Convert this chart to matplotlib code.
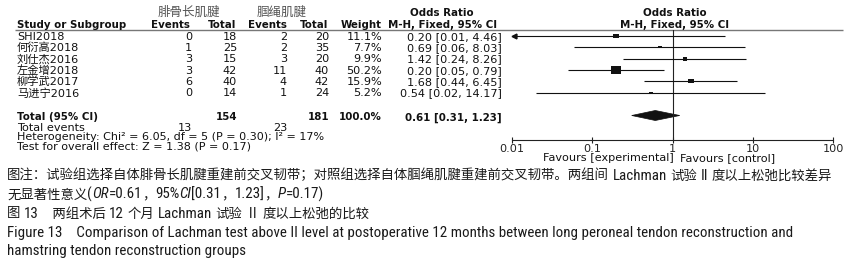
import os
import matplotlib
matplotlib.use("Agg")
import matplotlib.pyplot as plt
from matplotlib import font_manager
from matplotlib.font_manager import FontProperties
from matplotlib.path import Path
from matplotlib.markers import MarkerStyle
from matplotlib.patches import Polygon

# ---------------- data ----------------
studies = ['SHI2018', '何衍高2018', '刘仕杰2016', '左金增2018', '柳学武2017', '马进宁2016']
exp_events = [0, 1, 3, 3, 6, 0]
exp_total = [18, 25, 15, 42, 40, 14]
ctl_events = [2, 2, 3, 11, 4, 1]
ctl_total = [20, 35, 20, 40, 42, 24]
weights = [11.1, 7.7, 9.9, 50.2, 15.9, 5.2]
or_est = [0.20, 0.69, 1.42, 0.20, 1.68, 0.54]
ci_low = [0.01, 0.06, 0.24, 0.05, 0.44, 0.02]
ci_high = [4.46, 8.03, 8.26, 0.79, 6.45, 14.17]
total_exp = 154
total_ctl = 181
total_weight = 100.0
total_or = 0.61
total_low = 0.31
total_high = 1.23
total_exp_events = 13
total_ctl_events = 23
heterogeneity = "Heterogeneity: Chi² = 6.05, df = 5 (P = 0.30); I² = 17%"
overall = "Test for overall effect: Z = 1.38 (P = 0.17)"
xticks = [0.01, 0.1, 1, 10, 100]
xtick_labels = ['0.01', '0.1', '1', '10', '100']
group_exp = '腓骨长肌腱'
group_ctl = '腘绳肌腱'
caption_lines = [
    [('图注：试验组选择自体腓骨长肌腱重建前交叉韧带；对照组选择自体腘绳肌腱重建前交叉韧带。两组间 Lachman 试验 II 度以上松弛比较差异', False)],
    [('无显著性意义(', False), ('OR', True), ('=0.61，95%', False), ('CI', True),
     ('[0.31，1.23]，', False), ('P', True), ('=0.17)', False)],
    [('图 13　两组术后 12 个月 Lachman 试验 Ⅱ 度以上松弛的比较', False)],
    [('Figure 13    Comparison of Lachman test above II level at postoperative 12 months between long peroneal tendon reconstruction and', False)],
    [('hamstring tendon reconstruction groups', False)],
]

# ---------------- fonts ----------------
CJK = 'Noto Sans CJK SC'
TAB = ['DejaVu Sans', CJK]
plt.rcParams['font.family'] = TAB


def _w(f):
    if isinstance(f.weight, int):
        return f.weight
    return font_manager.weight_dict.get(f.weight, 400)


def pick_narrow():
    prefs = ['Liberation Sans Narrow', 'Arial Narrow', 'Roboto', 'Open Sans', 'DejaVu Sans', 'Noto Sans', 'Lato', 'Inter']
    cands = []
    for f in font_manager.fontManager.ttflist:
        fn = os.path.basename(f.fname).lower()
        if any(k in fn for k in ('mono', 'cjk', 'serif', 'math', 'extracond', 'extra-cond', 'ultracond')):
            continue
        cond = f.stretch in ('condensed', 'semi-condensed') or 'narrow' in fn or 'condensed' in fn
        if cond and f.style == 'normal' and _w(f) == 400:
            cands.append(f)
    for p in prefs:
        for f in cands:
            if f.name.startswith(p):
                return f
    return cands[0] if cands else None


nf = pick_narrow()
if nf is not None:
    lat_file = nf.fname
    ital = [f for f in font_manager.fontManager.ttflist
            if f.name == nf.name and f.stretch == nf.stretch and f.style in ('italic', 'oblique') and _w(f) == 400]
    lat_ital_file = ital[0].fname if ital else None
else:
    lat_file = None
    lat_ital_file = None


def lat_fp(size, italic=False):
    if italic and lat_ital_file:
        return FontProperties(fname=lat_ital_file, size=size)
    if lat_file and not italic:
        return FontProperties(fname=lat_file, size=size)
    return FontProperties(family='Liberation Sans', style='italic' if italic else 'normal', size=size)


W, H = 844, 268
fig = plt.figure(figsize=(W / 100, H / 100), dpi=100)
fig.patch.set_facecolor('white')
ax0 = fig.add_axes([0, 0, 1, 1])
ax0.set_xlim(0, W)
ax0.set_ylim(H, 0)
ax0.axis('off')
renderer = fig.canvas.get_renderer()

fs = 8.1
fsb = 7.4
txt = dict(fontsize=fs, va='center', family=TAB, color='#111')
txb = dict(fontsize=fsb, va='center', family=TAB, color='#111', fontweight='bold')

# ---------------- table ----------------
row_y0, row_dy = 36.0, 11.3
rows_y = [row_y0 + i * row_dy for i in range(len(studies))]

ax0.text(189, 12, group_exp, ha='center', va='center', fontsize=9, family=TAB, color='#555')
ax0.text(282, 12, group_ctl, ha='center', va='center', fontsize=9, family=TAB, color='#555')
ax0.text(442, 13.5, 'Odds Ratio', ha='center', **txb)
ax0.text(675, 13.5, 'Odds Ratio', ha='center', **txb)

hy = 25
ax0.text(17, hy, 'Study or Subgroup', ha='left', **txb)
ax0.text(190, hy, 'Events', ha='right', **txb)
ax0.text(236, hy, 'Total', ha='right', **txb)
ax0.text(287, hy, 'Events', ha='right', **txb)
ax0.text(328, hy, 'Total', ha='right', **txb)
ax0.text(382, hy, 'Weight', ha='right', **txb)
ax0.text(443, hy, 'M-H, Fixed, 95% CI', ha='center', **txb)
ax0.text(675, hy, 'M-H, Fixed, 95% CI', ha='center', **txb)
ax0.plot([15, 843], [29.5, 29.5], color='#777', lw=1.0, solid_capstyle='butt')

for i, y in enumerate(rows_y):
    ty = y + 0.8
    ax0.text(17, ty, studies[i], ha='left', **txt)
    ax0.text(192, ty, str(exp_events[i]), ha='right', **txt)
    ax0.text(237, ty, str(exp_total[i]), ha='right', **txt)
    ax0.text(287, ty, str(ctl_events[i]), ha='right', **txt)
    ax0.text(329, ty, str(ctl_total[i]), ha='right', **txt)
    ax0.text(382, ty, f'{weights[i]:.1f}%', ha='right', **txt)
    ax0.text(502, ty, f'{or_est[i]:.2f} [{ci_low[i]:.2f}, {ci_high[i]:.2f}]', ha='right', **txt)

ty_total = 117.5
ax0.text(17, ty_total, 'Total (95% CI)', ha='left', **txb)
ax0.text(237, ty_total, str(total_exp), ha='right', **txb)
ax0.text(329, ty_total, str(total_ctl), ha='right', **txb)
ax0.text(382, ty_total, f'{total_weight:.1f}%', ha='right', **txb)
ax0.text(502, ty_total, f'{total_or:.2f} [{total_low:.2f}, {total_high:.2f}]', ha='right', **txb)
ax0.text(17, 128.3, 'Total events', ha='left', **txt)
ax0.text(192, 128.3, str(total_exp_events), ha='right', **txt)
ax0.text(287, 128.3, str(total_ctl_events), ha='right', **txt)
small = dict(txt, fontsize=8.0)
ax0.text(17, 137.5, heterogeneity, ha='left', **small)
ax0.text(17, 146.5, overall, ha='left', **small)

# ---------------- forest plot ----------------
ax_top, ax_bot = 29.5, 140
ax = fig.add_axes([512 / W, 1 - ax_bot / H, (833 - 512) / W, (ax_bot - ax_top) / H])
ax.set_xscale('log')
ax.set_xlim(xticks[0], xticks[-1])
ax.set_ylim(ax_bot, ax_top)
ax.patch.set_alpha(0)
for s in ['top', 'left', 'right']:
    ax.spines[s].set_visible(False)
ax.spines['bottom'].set_linewidth(0.8)
ax.spines['bottom'].set_color('#222')
ax.set_yticks([])
ax.set_xticks(xticks)
ax.set_xticklabels(xtick_labels)
ax.minorticks_off()
ax.tick_params(axis='x', direction='inout', length=5, width=0.8, pad=0.5,
               labelsize=fs, colors='#222')
for lab in ax.get_xticklabels():
    lab.set_family(TAB)
ax.axvline(1, color='#222', lw=0.8)

sq = MarkerStyle(Path([(-1, -0.68), (1, -0.68), (1, 0.68), (-1, 0.68), (-1, -0.68)],
                      [Path.MOVETO, Path.LINETO, Path.LINETO, Path.LINETO, Path.CLOSEPOLY]))
xmin, xmax = xticks[0], xticks[-1]
for i, y in enumerate(rows_y):
    lo, hi = ci_low[i], ci_high[i]
    ax.plot([max(lo, xmin), min(hi, xmax)], [y, y], color='#111', lw=0.8, solid_capstyle='butt')
    if lo <= xmin:
        ax.plot([xmin * 1.06], [y], marker='<', color='#111', markersize=3.5, clip_on=False)
    if hi >= xmax:
        ax.plot([xmax / 1.06], [y], marker='>', color='#111', markersize=3.5, clip_on=False)
    side_px = max(3.2, 1.51 * weights[i] ** 0.5)
    ax.plot([or_est[i]], [y], marker=sq, markersize=side_px * 0.72, color='#111',
            markeredgewidth=0, linestyle='none')

ty_d = 115.5
ax.add_patch(Polygon([(total_low, ty_d), (total_or, ty_d - 5), (total_high, ty_d),
                      (total_or, ty_d + 5)], closed=True, facecolor='#111', edgecolor='#111', lw=0.5))

ax0.text(674, 158, 'Favours [experimental]', ha='right', **txt)
ax0.text(680, 158, 'Favours [control]', ha='left', **txt)

# ---------------- caption ----------------
state = {'cjk': 9.8, 'lat': 10.0}


def is_cjk(c):
    return ord(c) >= 0x2000


def pieces(parts):
    out = []
    for s, it in parts:
        cur, cls = '', None
        for c in s:
            k = 'sp' if c == ' ' else ('cjk' if is_cjk(c) else 'lat')
            if k != cls and cur:
                out.append((cur, cls, it))
                cur = ''
            cls = k
            cur += c
        if cur:
            out.append((cur, cls, it))
    return out


def adv(s, fp):
    w1, _, _ = renderer.get_text_width_height_descent('X' + s + 'X', fp, ismath=False)
    w0, _, _ = renderer.get_text_width_height_descent('XX', fp, ismath=False)
    return w1 - w0


def fp_for(cls, it):
    if cls == 'cjk':
        return FontProperties(family=CJK, size=state['cjk'])
    return lat_fp(state['lat'], it)


def width_by(parts, which):
    tot = 0.0
    part = 0.0
    for s, c, it in pieces(parts):
        a = adv(s, fp_for(c, it))
        tot += a
        if (c == 'cjk') == (which == 'cjk'):
            part += a
    return tot, part


# Latin size from the all-Latin line, CJK size from the first (mostly CJK) line
for _ in range(3):
    tot, part = width_by(caption_lines[3], 'lat')
    state['lat'] *= (783.0 - (tot - part)) / part
for _ in range(3):
    tot, part = width_by(caption_lines[0], 'cjk')
    state['cjk'] *= (828.0 - (tot - part)) / part


def draw_line(x, y, parts):
    pcs = pieces(parts)
    if all(c != 'cjk' and not it for _, c, it in pcs):
        s = ''.join(p for p, _, _ in pcs)
        ax0.text(x, y, s, fontproperties=lat_fp(state['lat']), va='baseline', ha='left', color='#1a1a1a')
        return
    for s, c, it in pcs:
        fp = fp_for(c, it)
        if c != 'sp':
            ax0.text(x, y, s, fontproperties=fp, va='baseline', ha='left', color='#1a1a1a')
        x += adv(s, fp)


cap_y = [175, 194, 213, 232, 251]
for yy, parts in zip(cap_y, caption_lines):
    draw_line(7, yy + 4.5, parts)

fig.savefig('out.png', dpi=100, facecolor='white')
